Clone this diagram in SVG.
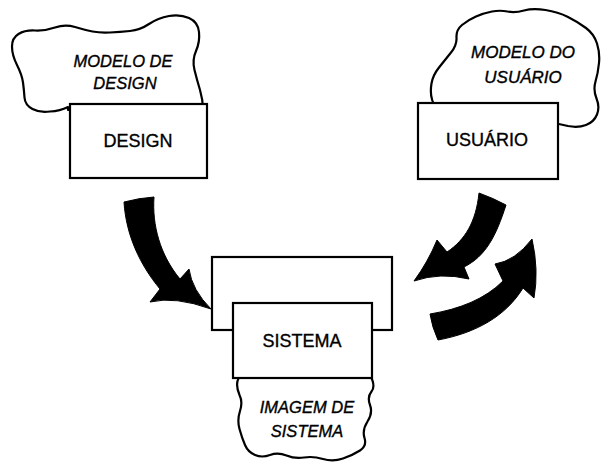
<svg xmlns="http://www.w3.org/2000/svg" width="604" height="463" viewBox="0 0 604 463">
<style>
.cloud{fill:#fff;stroke:#000;stroke-width:2.2;stroke-linejoin:round}
.box{fill:#fff;stroke:#000;stroke-width:2.2}
.arrow{fill:#000;stroke:#000;stroke-width:1;stroke-linejoin:round}
.lbl{font-family:"Liberation Sans",Arial,sans-serif;font-size:18px;text-anchor:middle;fill:#000;stroke:#000;stroke-width:0.35}
.it{font-family:"Liberation Sans",Arial,sans-serif;font-size:16.5px;font-style:italic;text-anchor:middle;fill:#000;stroke:#000;stroke-width:0.35}
</style>
<rect width="604" height="463" fill="#fff"/>
<g id="design-node">
<path class="cloud" d="M 68,107 Q 60,111 50,111.5 Q 40,113 32.5,109 Q 25,105 24.5,97.5 Q 24,90 23,82.5 Q 22,75 17,65 Q 12,55 12,46.5 Q 12,38 18.5,34 Q 25,30 35,30.5 Q 45,31 55,27.5 Q 65,24 75,27 Q 85,30 92.5,31.5 Q 100,33 110,32.5 Q 120,32 130,31 Q 140,30 149,24 Q 158,18 169,16 Q 180,14 189,18 Q 198,22 199,32 Q 200,42 196,51 Q 192,60 194.5,70 Q 197,80 200,90 Q 203,100 203,110 L 68,110 Z"/>
<text class="it" x="123" y="67">MODELO DE</text>
<text class="it" x="125" y="89">DESIGN</text>
<rect class="box" x="70" y="104" width="137" height="74"/>
<text class="lbl" x="138" y="147">DESIGN</text>
</g>
<g id="usuario-node">
<path class="cloud" d="M 436,108 Q 429,98 431.5,83.5 Q 433,75 439,67.5 Q 445,60 451,52.5 Q 457,45 456.5,37.5 Q 456,30 462,25 Q 468,20 476,16.5 Q 484,13 492,11.5 Q 500,10 507.5,11.5 Q 515,13 524,10.5 Q 533,8 545.5,10 Q 558,12 568,17 Q 578,22 586,28 Q 594,34 597,43.5 Q 600,53 599,63 Q 598,73 595.5,81.5 Q 593,90 596.5,98.5 Q 600,107 597,114.5 Q 594,122 586,125 Q 578,128 568,126 Q 560,124 552,123 L 552,108 Z"/>
<text class="it" x="523" y="58" style="font-size:17px">MODELO DO</text>
<text class="it" x="523" y="83" style="font-size:17px">USUÁRIO</text>
<rect class="box" x="418" y="103" width="140" height="76"/>
<text class="lbl" x="487" y="146">USUÁRIO</text>
</g>
<g id="sistema-node">
<rect class="box" x="212" y="257" width="180" height="73"/>
<path class="cloud" d="M 241,375 Q 234,382 239.5,395 Q 243,402 240,411 Q 237,420 239.5,429 Q 242,438 245,445 Q 248,452 255,455 Q 262,458 270,455 Q 278,452 286.5,455.5 Q 295,459 304,457.5 Q 313,456 323,459 Q 333,462 343,458.5 Q 353,455 360,450.5 Q 367,446 364.5,438 Q 362,430 367.5,421.5 Q 373,413 370,405 Q 367,397 371.5,391.5 Q 376,386 370,375 Z"/>
<rect class="box" x="233" y="303" width="139" height="75"/>
<text class="lbl" x="302" y="347">SISTEMA</text>
<text class="it" x="307" y="413">IMAGEM DE</text>
<text class="it" x="307" y="437">SISTEMA</text>
</g>
<g id="connectors">
<path class="arrow" d="M 124,202 Q 139,198 154,197 C 152,225 160,255 180,279 L 189,269 Q 192,290 211,309 Q 175,296 150,302 L 160,289 C 140,265 126,235 124,202 Z"/>
<path class="arrow" d="M 479,193 Q 493,198 506,205 C 496,236 486,256 464,267 L 469,279 Q 440,272 414,281 Q 428,262 437,240 L 447,252 C 465,240 476,222 479,193 Z"/>
<path class="arrow" d="M 430,314 C 460,309 485,299 503,281 L 495,264 Q 515,261 532,239 Q 539,270 534,298 L 523,288 C 506,316 476,333 438,340 Q 432,327 430,314 Z"/>
</g>
</svg>
